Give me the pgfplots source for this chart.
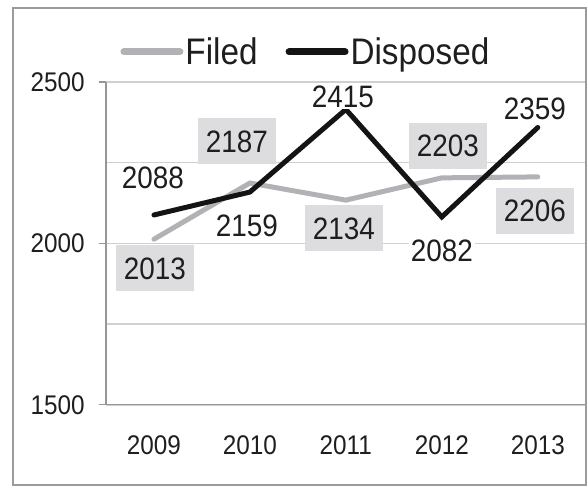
\documentclass[border=0pt]{standalone}
\usepackage{fontspec}
\setmainfont{Liberation Sans}[FakeStretch=0.9]
\usepackage{pgfplots}
\pgfplotsset{compat=1.18}
\usepackage{pgfplotstable}

\definecolor{filedgray}{RGB}{178,178,182}
\definecolor{boxgray}{RGB}{221,221,223}
\definecolor{gridgray}{RGB}{208,208,208}
\definecolor{axisgray}{RGB}{150,150,150}
\definecolor{framegray}{RGB}{155,155,155}
\definecolor{txt}{RGB}{30,30,30}

% x, value, label offsets (dx, dy)
\pgfplotstableread{
x  y    dx  dy
1  2013  1  -29
2  2187 -13  42
3  2134 -2  -28
4  2203  6   32
5  2206 -3  -34
}\filed
\pgfplotstableread{
x  y    dx  dy
1  2088 -1   37
2  2159 -3  -33
3  2415 -3   13
4  2082  0  -34
5  2359 -3   19
}\disposed

\begin{document}
\begin{tikzpicture}
\begin{axis}[
    scale only axis,
    width=480pt, height=323pt,
    xmin=0.5, xmax=5.5,
    ymin=1500, ymax=2500,
    axis x line*=bottom, axis y line*=left,
    axis line style={axisgray, line width=1.2pt, -},
    xtick={1,2,3,4,5},
    xticklabels={2009,2010,2011,2012,2013},
    xtick style={draw=none},
    extra x ticks={0.5,1.5,2.5,3.5,4.5,5.5},
    extra x tick labels={},
    extra x tick style={grid=none, tick align=outside, major tick length=8pt,
        tick style={axisgray, line width=1.2pt}},
    ytick={1500,2000,2500},
    minor ytick={1750,2250},
    ymajorgrids, yminorgrids,
    major grid style={gridgray, line width=1.5pt},
    minor grid style={gridgray, line width=1.5pt},
    ytick style={axisgray, line width=1.2pt},
    tick align=outside,
    major tick length=7pt,
    minor tick length=0pt,
    ticklabel style={font=\fontsize{27}{29}\selectfont, text=txt, inner sep=0pt},
    xticklabel style={anchor=center, yshift=-33pt},
    yticklabel style={anchor=east, xshift=-14pt},
    /pgf/number format/assume math mode=true,
    /pgf/number format/1000 sep={},
    clip=false,
    legend columns=2,
    legend style={draw=none, fill=none, at={(rel axis cs:0.4167,1.093)}, anchor=center,
        font=\fontsize{37}{40}\selectfont, text=txt,
        /tikz/every even column/.append style={column sep=26pt},
        nodes={inner sep=2pt}},
    legend image code/.code={\draw[#1, line width=7pt, line cap=round] (0pt,0pt) -- (56pt,0pt);},
]
\addplot[filedgray, line width=5pt, line cap=round,
    nodes near coords, point meta=explicit symbolic,
    visualization depends on={\thisrow{dx} \as \dx},
    visualization depends on={\thisrow{dy} \as \dy},
    every node near coord/.append style={anchor=center, xshift=\dx pt, yshift=\dy pt,
        fill=boxgray, text=txt, inner xsep=8pt, inner ysep=12pt,
        text height=22pt, text depth=0pt, font=\fontsize{31}{33}\selectfont}]
    table[x=x, y=y, meta=y] {\filed};
\addlegendentry{Filed}
\addplot[black!92, line width=5pt, line cap=round,
    nodes near coords, point meta=explicit symbolic,
    visualization depends on={\thisrow{dx} \as \dx},
    visualization depends on={\thisrow{dy} \as \dy},
    every node near coord/.append style={anchor=center, xshift=\dx pt, yshift=\dy pt,
        fill=white, text=txt, inner sep=2pt,
        text height=22pt, text depth=0pt, font=\fontsize{31}{33}\selectfont}]
    table[x=x, y=y, meta=y] {\disposed};
\addlegendentry{Disposed}
\end{axis}
\draw[framegray, line width=2.5pt]
    ([shift={(-93pt,-80pt)}]current axis.south west) rectangle
    ([shift={(0pt,74pt)}]current axis.north east);
\path ([shift={(-106pt,-82pt)}]current axis.south west)
    ([shift={(1pt,82pt)}]current axis.north east);
\end{tikzpicture}
\end{document}
